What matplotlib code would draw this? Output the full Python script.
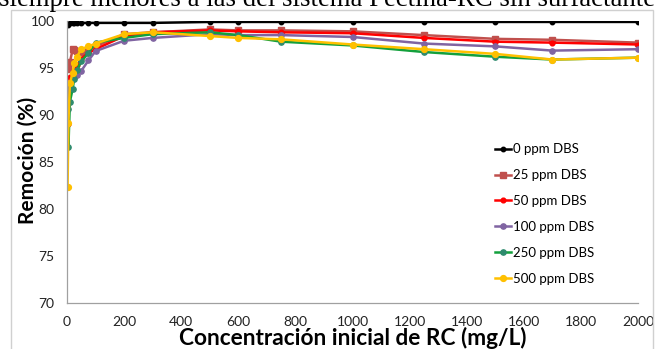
import matplotlib
matplotlib.use("Agg")
import matplotlib.pyplot as plt
from matplotlib.patches import Rectangle

# Concentración inicial de RC (mg/L)
conc = [2, 5, 10, 20, 25, 35, 50, 75, 100, 200, 300, 500, 600, 750,
        1000, 1250, 1500, 1700, 2000]

# Remoción (%) para cada dosis de DBS
rem_0 = [99.6, 99.7, 99.8, 99.8, 99.8, 99.8, 99.8, 99.8, 99.8, 99.8,
         99.8, 99.9, 99.9, 99.9, 99.9, 99.9, 99.9, 99.9, 99.9]
rem_25 = [94.9, 95.0, 95.6, 97.0, 96.9, 96.8, 96.7, 96.9, 97.3, 98.6,
          98.8, 99.1, 99.0, 99.0, 98.9, 98.5, 98.1, 98.0, 97.7]
rem_50 = [89.0, 91.5, 94.0, 94.3, 94.7, 95.3, 96.0, 96.6, 97.0, 98.4,
          98.8, 99.0, 98.9, 98.8, 98.7, 98.2, 97.8, 97.7, 97.5]
rem_100 = [91.3, 92.4, 93.3, 93.8, 94.0, 94.3, 94.7, 95.8, 96.8, 97.9,
           98.2, 98.6, 98.5, 98.5, 98.3, 97.6, 97.3, 96.85, 97.0]
rem_250 = [90.6, 86.6, 91.4, 92.8, 93.8, 94.8, 95.7, 96.6, 97.7, 98.2,
           98.6, 98.8, 98.5, 97.8, 97.4, 96.7, 96.2, 95.9, 96.1]
rem_500 = [82.3, 89.2, 93.4, 94.5, 95.5, 96.2, 97.0, 97.3, 97.6, 98.6,
           98.8, 98.4, 98.2, 98.05, 97.5, 97.0, 96.5, 95.9, 96.1]

labels = ["0 ppm DBS", "25 ppm DBS", "50 ppm DBS",
          "100 ppm DBS", "250 ppm DBS", "500 ppm DBS"]
x_ticks = [0, 200, 400, 600, 800, 1000, 1200, 1400, 1600, 1800, 2000]
y_ticks = [70, 75, 80, 85, 90, 95, 100]

# (line colour, marker colour, marker, size)
styles = [
    ("#000000", "#000000", "o", 3.2),
    ("#C0504D", "#C0504D", "s", 4.2),
    ("#FF0000", "#FF0000", "o", 3.4),
    ("#8064A2", "#8064A2", "o", 3.8),
    ("#13A03C", "#2E8B6E", "o", 3.8),
    ("#FFC000", "#FFC000", "o", 4.2),
]

fig = plt.figure(figsize=(6.55, 3.49), dpi=100)
fig.patch.set_facecolor("white")

# cropped caption line above the chart
fig.text(-0.002, 1 - 6 / 349,
         "siempre menores a las del sistema Pectina-RC sin surfactante",
         family="Liberation Serif", fontsize=19.3, va="baseline", ha="left")

# chart frame
fig.patches.append(Rectangle((10.5 / 655, -0.1), 642 / 655, 1.1 - 10 / 349,
                             transform=fig.transFigure, fill=False,
                             edgecolor="#D0D0D0", linewidth=1))

ax = fig.add_axes([67 / 655, 1 - 303 / 349, 571 / 655, 282 / 349])

series = [rem_0, rem_25, rem_50, rem_100, rem_250, rem_500]
for vals, lab, (lc, mc, mk, ms) in zip(series, labels, styles):
    ax.plot(conc, vals, color=lc, linewidth=1.8, marker=mk, markersize=ms,
            markerfacecolor=mc, markeredgecolor=mc, label=lab)

ax.set_xlim(0, 2000)
ax.set_ylim(70, 100)
ax.set_xticks(x_ticks)
ax.set_yticks(y_ticks)
ax.tick_params(length=0, labelsize=10, colors="#222222")
ax.tick_params(axis="x", pad=9.5)
ax.tick_params(axis="y", pad=9)
for lbl in ax.get_xticklabels() + ax.get_yticklabels():
    lbl.set_family("Lato")
for side in ("top", "right"):
    ax.spines[side].set_visible(False)
for side in ("left", "bottom"):
    ax.spines[side].set_color("#A0A0A0")
    ax.spines[side].set_linewidth(0.9)

ax.set_xlabel("Concentración inicial de RC (mg/L)", family="Lato",
              fontsize=16.3, fontweight="bold", va="baseline")
ax.xaxis.set_label_coords(0.5, -42 / 282)
ax.set_ylabel("Remoción (%)", family="Lato", fontsize=15,
              fontweight="bold", va="center")
ax.yaxis.set_label_coords(-39 / 571, 0.507)

ax.legend(loc="upper left", bbox_to_anchor=(0.74, 0.585), frameon=False,
          prop={"family": "Lato", "size": 9.5}, handlelength=1.2,
          handletextpad=0.2, labelspacing=1.05, borderaxespad=0)

fig.savefig("out.png", dpi=100, facecolor="white")
